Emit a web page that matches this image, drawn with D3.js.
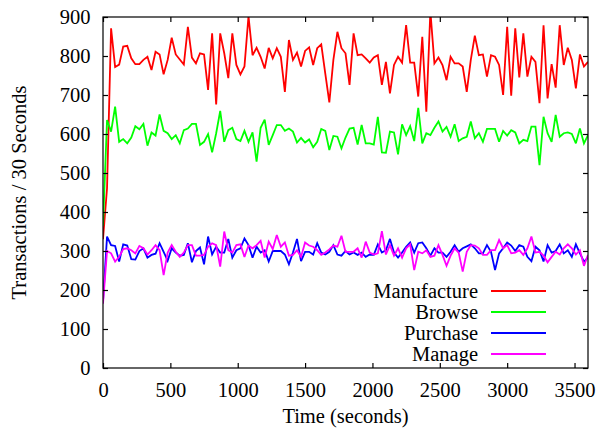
<!DOCTYPE html>
<html>
<head>
<meta charset="utf-8">
<script src="https://cdn.jsdelivr.net/npm/d3@7"></script>
<style>
  body { margin: 0; background: #fff; }
  svg { display: block; }
  text { font-family: "Liberation Serif", "Times New Roman", serif; }
</style>
</head>
<body>
<svg width="599" height="433"></svg>
<script>
// transactions per 30 second bucket, one sample every 30 s from 0 to 3600
var manufacture = [330, 461, 871, 772, 778, 824, 826, 794, 779, 779, 790, 798, 764, 811, 804, 753, 790, 847, 804, 791, 778, 875, 796, 781, 807, 804, 713, 858, 676, 858, 807,
  743, 858, 777, 753, 773, 902, 802, 821, 798, 768, 821, 794, 820, 798, 708, 841, 790, 809, 773, 813, 822, 777, 820, 830, 755, 681, 790, 862, 820, 807,
  726, 858, 802, 804, 794, 783, 796, 802, 726, 785, 704, 777, 798, 783, 879, 783, 783, 696, 849, 657, 915, 781, 796, 777, 738, 798, 781, 781, 773, 708,
  790, 852, 802, 804, 747, 802, 798, 777, 700, 875, 698, 871, 745, 858, 747, 798, 785, 679, 879, 691, 779, 719, 879, 777, 821, 790, 717, 804, 773, 785];
var browse = [365, 636, 606, 670, 580, 587, 576, 591, 620, 612, 626, 570, 604, 596, 650, 608, 602, 587, 597, 576, 610, 614, 626, 626, 572, 580, 600, 553, 602, 659, 580,
  610, 616, 587, 582, 608, 580, 604, 529, 616, 637, 572, 597, 623, 623, 608, 614, 606, 578, 590, 578, 586, 566, 580, 613, 608, 559, 595, 593, 563, 591,
  614, 616, 573, 623, 576, 576, 573, 644, 553, 552, 606, 604, 548, 625, 597, 620, 582, 667, 576, 602, 597, 616, 632, 606, 618, 593, 625, 582, 589, 593,
  632, 589, 602, 580, 613, 613, 613, 580, 608, 596, 610, 604, 576, 585, 582, 619, 619, 520, 644, 602, 580, 649, 593, 602, 604, 600, 576, 614, 576, 597];
var purchase = [170, 337, 315, 313, 273, 317, 314, 279, 278, 300, 307, 283, 290, 293, 320, 298, 275, 307, 296, 288, 290, 320, 271, 300, 309, 266, 337, 291, 311, 296, 296,
  331, 283, 302, 307, 332, 315, 283, 311, 296, 302, 273, 300, 300, 300, 291, 266, 296, 331, 274, 298, 298, 291, 320, 296, 291, 298, 315, 291, 288, 300,
  291, 296, 290, 296, 285, 291, 290, 317, 296, 302, 331, 296, 283, 296, 311, 322, 296, 320, 322, 307, 288, 307, 296, 296, 285, 298, 315, 298, 307, 312,
  317, 307, 294, 294, 315, 298, 251, 294, 307, 322, 314, 300, 315, 311, 285, 274, 311, 302, 273, 315, 296, 300, 317, 294, 302, 285, 317, 294, 273, 283];
var manage = [165, 300, 294, 273, 285, 305, 307, 302, 294, 313, 307, 291, 302, 315, 302, 238, 296, 315, 298, 285, 296, 315, 315, 288, 288, 290, 311, 320, 315, 260, 350,
  302, 296, 315, 317, 285, 314, 307, 315, 326, 283, 324, 305, 341, 311, 322, 288, 290, 302, 285, 322, 314, 311, 302, 290, 296, 304, 314, 311, 339, 298,
  298, 298, 307, 283, 324, 296, 291, 294, 351, 291, 315, 288, 307, 283, 307, 317, 251, 298, 294, 302, 285, 288, 315, 290, 262, 288, 307, 296, 247, 298,
  315, 314, 307, 290, 290, 302, 302, 328, 307, 315, 294, 296, 302, 290, 307, 337, 296, 298, 288, 271, 285, 298, 291, 307, 317, 307, 291, 302, 262, 290];

var seriesNames = ["Manufacture", "Browse", "Purchase", "Manage"];
var seriesColors = ["#ff0000", "#00ff00", "#0000ff", "#ff00ff"];
var xTicks = [0, 500, 1000, 1500, 2000, 2500, 3000, 3500];
var yTicks = [0, 100, 200, 300, 400, 500, 600, 700, 800, 900];
var step = 30;

var svg = d3.select("svg"),
    margin = { top: 17, right: 11, bottom: 65, left: 103 },
    width = +svg.attr("width") - margin.left - margin.right,
    height = +svg.attr("height") - margin.top - margin.bottom;

var fontSize = "20.5px";

var x = d3.scaleLinear().domain([0, 3600]).range([0, width]);
var y = d3.scaleLinear().domain([0, 900]).range([height, 0]);

var g = svg.append("g").attr("transform", "translate(" + margin.left + "," + margin.top + ")");

g.append("clipPath").attr("id", "plot-clip").append("rect")
  .attr("width", width).attr("height", height);

var allSeries = [manufacture, browse, purchase, manage];

var line = d3.line()
  .x(function (d, i) { return x(i * step); })
  .y(function (d) { return y(d); });

g.append("g").attr("clip-path", "url(#plot-clip)")
  .selectAll("path").data(allSeries).enter().append("path")
  .attr("d", line)
  .attr("fill", "none")
  .attr("stroke", function (d, i) { return seriesColors[i]; })
  .attr("stroke-width", 1.8)
  .attr("stroke-linejoin", "miter")
  .attr("stroke-miterlimit", 3);

// inward ticks on all four sides, gnuplot style
function styleAxis(sel) {
  sel.select(".domain").remove();
  sel.selectAll(".tick line").attr("stroke", "#000").attr("stroke-width", 1.2);
  sel.selectAll(".tick text").attr("fill", "#000").style("font-size", fontSize)
    .style("font-family", "'Liberation Serif', 'Times New Roman', serif");
}

g.append("g").attr("transform", "translate(0," + height + ")")
  .call(d3.axisBottom(x).tickValues(xTicks).tickSizeInner(-5).tickSizeOuter(0).tickPadding(14.5).tickFormat(d3.format("d")))
  .call(styleAxis);

g.append("g")
  .call(d3.axisTop(x).tickValues(xTicks).tickSizeInner(-5).tickSizeOuter(0).tickFormat(""))
  .call(styleAxis);

g.append("g")
  .call(d3.axisLeft(y).tickValues(yTicks).tickSizeInner(-5).tickSizeOuter(0).tickPadding(12.5).tickFormat(d3.format("d")))
  .call(styleAxis);

g.append("g").attr("transform", "translate(" + width + ",0)")
  .call(d3.axisRight(y).tickValues(yTicks).tickSizeInner(-5).tickSizeOuter(0).tickFormat(""))
  .call(styleAxis);

g.append("rect").attr("width", width).attr("height", height)
  .attr("fill", "none").attr("stroke", "#000").attr("stroke-width", 1.2);

// axis titles
svg.append("text").attr("x", margin.left + width / 2).attr("y", 423)
  .attr("text-anchor", "middle").style("font-size", fontSize).text("Time (seconds)");

svg.append("text").attr("transform", "translate(26," + (margin.top + height / 2) + ") rotate(-90)")
  .attr("text-anchor", "middle").style("font-size", fontSize).text("Transactions / 30 Seconds");

// legend
var legend = svg.append("g").selectAll("g").data(seriesNames).enter().append("g")
  .attr("transform", function (d, i) { return "translate(0," + (291 + i * 21) + ")"; });

legend.append("text").attr("x", 478).attr("y", 7)
  .attr("text-anchor", "end").style("font-size", fontSize)
  .text(function (d) { return d; });

legend.append("line").attr("x1", 491).attr("x2", 546)
  .attr("stroke", function (d, i) { return seriesColors[i]; })
  .attr("stroke-width", 1.8);
</script>
</body>
</html>
